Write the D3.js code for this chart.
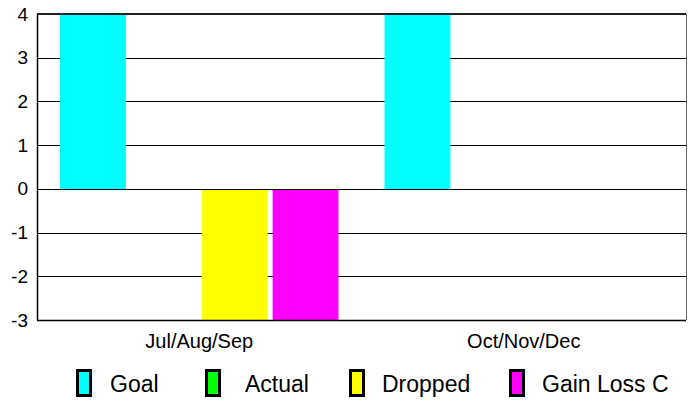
<!DOCTYPE html>
<html>
<head>
<meta charset="utf-8">
<script src="https://cdn.jsdelivr.net/npm/d3@7"></script>
<style>
  html, body { margin: 0; padding: 0; background: #fff; }
  svg { display: block; font-family: Arial, "Liberation Sans", sans-serif; }
</style>
</head>
<body>
<svg id="chart" width="698" height="402"></svg>
<script>
const categories = ["Jul/Aug/Sep", "Oct/Nov/Dec"];
const seriesNames = ["Goal", "Actual", "Dropped", "Gain Loss C"];
const goalValues = [4, 4];
const actualValues = [0, 0];
const droppedValues = [-3, 0];
const gainLossValues = [-3, 0];
const yTicks = [-3, -2, -1, 0, 1, 2, 3, 4];
const seriesColors = ["#00FFFF", "#00FF00", "#FFFF00", "#FF00FF"];

const seriesValues = [goalValues, actualValues, droppedValues, gainLossValues];

const svg = d3.select("#chart");
const pLeft = 37, pRight = 686, pTop = 14, pBottom = 320;

const x0 = d3.scaleBand().domain(categories).range([pLeft, pRight]).padding(0);
const groupPad = 23;
const x1 = d3.scaleBand().domain(seriesNames)
  .range([groupPad, x0.bandwidth() - groupPad])
  .paddingInner(5 / 71).paddingOuter(0);
const y = d3.scaleLinear().domain([-3, 4]).range([pBottom, pTop]);

// gridlines
svg.append("g").selectAll("line").data(yTicks).join("line")
  .attr("x1", pLeft).attr("x2", pRight)
  .attr("y1", d => Math.round(y(d)) + 0.5).attr("y2", d => Math.round(y(d)) + 0.5)
  .attr("stroke", "#000").attr("stroke-width", 1);

// bars
const rows = [];
categories.forEach((c, ci) => {
  seriesNames.forEach((s, si) => {
    rows.push({ cat: c, series: s, value: seriesValues[si][ci], color: seriesColors[si] });
  });
});
svg.append("g").selectAll("rect").data(rows.filter(d => d.value !== 0)).join("rect")
  .attr("x", d => x0(d.cat) + x1(d.series))
  .attr("width", x1.bandwidth())
  .attr("y", d => Math.round(y(Math.max(0, d.value))) + 1)
  .attr("height", d => Math.abs(Math.round(y(d.value)) - Math.round(y(0))) - 1)
  .attr("fill", d => d.color);

// frame
svg.append("line").attr("x1", pLeft).attr("x2", pRight).attr("y1", pTop).attr("y2", pTop)
  .attr("stroke", "#222").attr("stroke-width", 2);
svg.append("line").attr("x1", pRight + 0.5).attr("x2", pRight + 0.5).attr("y1", pTop).attr("y2", pBottom)
  .attr("stroke", "#666").attr("stroke-width", 1);
svg.append("line").attr("x1", pLeft).attr("x2", pRight).attr("y1", pBottom + 0.5).attr("y2", pBottom + 0.5)
  .attr("stroke", "#000").attr("stroke-width", 1.5);

// y axis
const yAxis = d3.axisLeft(y).tickValues(yTicks).tickSize(0).tickPadding(9).tickFormat(d => String(d));
const gy = svg.append("g").attr("transform", `translate(${pLeft},0)`).call(yAxis);
gy.select(".domain").attr("stroke", "#000").attr("stroke-width", 1.5);
gy.selectAll("text").attr("font-size", 19).attr("fill", "#000")
  .attr("font-family", "Arial, 'Liberation Sans', sans-serif");

// x axis
const xAxis = d3.axisBottom(x0).tickSize(0).tickPadding(0);
const gx = svg.append("g").attr("transform", `translate(0,${pBottom})`).call(xAxis);
gx.select(".domain").remove();
gx.selectAll("text").attr("font-size", 20).attr("fill", "#000").attr("dy", null).attr("y", 28)
  .attr("font-family", "Arial, 'Liberation Sans', sans-serif");

// legend
const legendX = [76, 205, 349, 509];
const lg = svg.append("g").selectAll("g").data(seriesNames).join("g")
  .attr("transform", (d, i) => `translate(${legendX[i]},369)`);
lg.append("rect").attr("x", 1.5).attr("y", 1.5).attr("width", 13).attr("height", 25)
  .attr("fill", (d, i) => seriesColors[i]).attr("stroke", "#000").attr("stroke-width", 3);
lg.append("text").attr("x", (d, i) => [34, 40, 33, 33][i]).attr("y", 23)
  .attr("font-size", 23).attr("fill", "#000").text(d => d);
</script>
</body>
</html>
